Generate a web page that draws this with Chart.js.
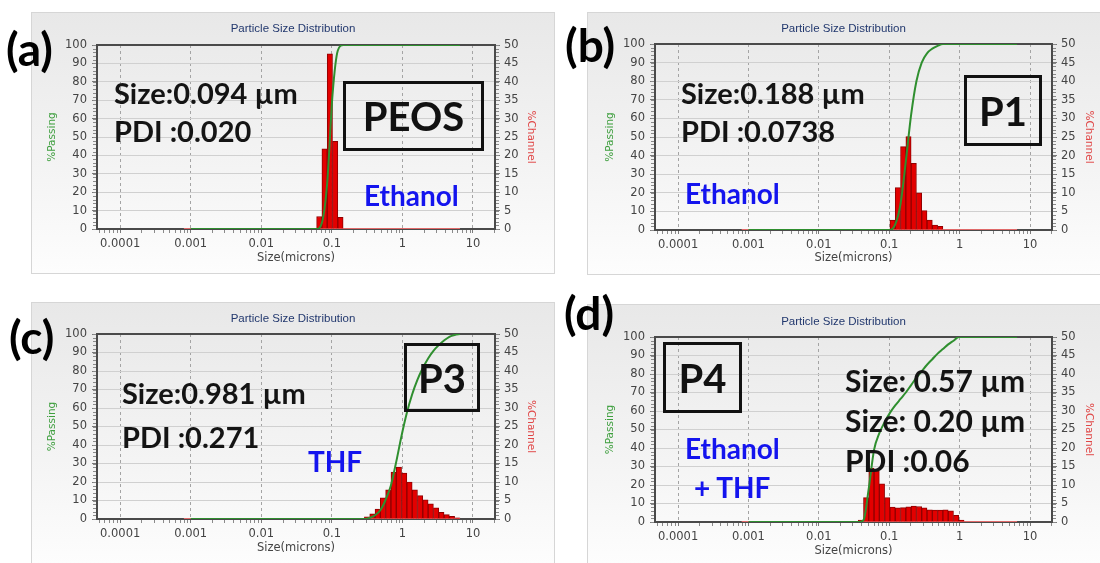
<!DOCTYPE html>
<html>
<head>
<meta charset="utf-8">
<script src="https://cdn.jsdelivr.net/npm/chart.js@4.4.1/dist/chart.umd.min.js"></script>
<style>
  body { margin: 0; background: #fff; }
  #page { position: relative; width: 1100px; height: 563px; overflow: hidden; background: #fff; }
  .panel { position: absolute; box-sizing: border-box; border: 1px solid #d6d6d6;
           background: linear-gradient(#e8e8e8, #f4f4f4 60%, #fdfdfd); }
  canvas { position: absolute; }
  .note { position: absolute; font-family: Lato, "Open Sans", sans-serif; font-weight: 700;
          line-height: 1; white-space: nowrap; color: #141414; transform: translateY(-50%); font-size: 29px; }
  .tag { font-size: 46px; color: #000; }
  .blue { color: #1414ee; font-size: 28px; }
  .box { position: absolute; box-sizing: border-box; border: 3.5px solid #111;
         display: flex; align-items: center; justify-content: center;
         font-family: Lato, "Open Sans", sans-serif; font-weight: 700; font-size: 40px; color: #111; }
</style>
</head>
<body>
<div id="page">
  <div class="panel" style="left:31px;top:12px;width:524px;height:262px"></div>
  <div class="panel" style="left:587px;top:12px;width:515px;height:263px"></div>
  <div class="panel" style="left:31px;top:302px;width:524px;height:263px"></div>
  <div class="panel" style="left:587px;top:304px;width:515px;height:261px"></div>

  <canvas id="psdA" width="524" height="262" style="left:31px;top:12px"></canvas>
  <canvas id="psdB" width="513" height="263" style="left:587px;top:12px"></canvas>
  <canvas id="psdC" width="524" height="261" style="left:31px;top:302px"></canvas>
  <canvas id="psdD" width="513" height="259" style="left:587px;top:304px"></canvas>

  <!-- (a) PEOS -->
  <div class="note tag" style="left:6px;top:49px">(a)</div>
  <div class="note" style="left:114px;top:92px">Size:0.094 µm</div>
  <div class="note" style="left:114px;top:130px">PDI :0.020</div>
  <div class="box" style="left:343px;top:81px;width:141px;height:70px">PEOS</div>
  <div class="note blue" style="left:364px;top:195px">Ethanol</div>

  <!-- (b) P1 -->
  <div class="note tag" style="left:565px;top:45px">(b)</div>
  <div class="note" style="left:681px;top:92px">Size:0.188 µm</div>
  <div class="note" style="left:681px;top:130px">PDI :0.0738</div>
  <div class="box" style="left:964px;top:75px;width:78px;height:71px">P1</div>
  <div class="note blue" style="left:685px;top:193px">Ethanol</div>

  <!-- (c) P3 -->
  <div class="note tag" style="left:9px;top:337px">(c)</div>
  <div class="note" style="left:122px;top:392px">Size:0.981 µm</div>
  <div class="note" style="left:122px;top:436px">PDI :0.271</div>
  <div class="box" style="left:404px;top:343px;width:76px;height:69px">P3</div>
  <div class="note blue" style="left:308px;top:461px">THF</div>

  <!-- (d) P4 -->
  <div class="note tag" style="left:564px;top:313px">(d)</div>
  <div class="box" style="left:663px;top:342px;width:79px;height:71px">P4</div>
  <div class="note" style="left:845px;top:380px;font-size:30px">Size: 0.57 µm</div>
  <div class="note" style="left:845px;top:420px;font-size:30px">Size: 0.20 µm</div>
  <div class="note" style="left:845px;top:460px;font-size:30px">PDI :0.06</div>
  <div class="note blue" style="left:685px;top:448px">Ethanol</div>
  <div class="note blue" style="left:694px;top:487px">+ THF</div>
</div>

<script>
// size axis (microns)
const decadeTicks = [0.0001, 0.001, 0.01, 0.1, 1, 10];
const decadeLabels = ['0.0001', '0.001', '0.01', '0.1', '1', '10'];
const sizeMin = 4.7e-5;
const sizeMax = 20.5;
const channelRange = [0.0008, 6.54];

// PEOS in ethanol: channel centres, %channel, and %passing at channel upper edges
const sizesA = [0.0663, 0.0788, 0.0937, 0.1114, 0.1325];
const channelA = [3.4, 21.8, 47.6, 23.8, 3.2];
const passSizesA = [0.001, 0.0608, 0.0723, 0.0859, 0.1022, 0.1215, 0.1445, 6.54];
const passingA = [0, 0, 3.4, 25, 73, 97, 100, 100];

// P1 in ethanol
const sizesB = [0.1114, 0.1325, 0.1576, 0.1876, 0.223, 0.265, 0.3152, 0.3751, 0.446, 0.530];
const channelB = [2.7, 11.4, 22.4, 25.1, 17.9, 10.0, 5.2, 2.7, 1.3, 1.0];
const passSizesB = [0.001, 0.1022, 0.1215, 0.1445, 0.172, 0.2045, 0.243, 0.289, 0.344, 0.409, 0.486, 0.578, 6.54];
const passingB = [0, 0, 3, 14, 37, 62, 80, 90, 95, 97.5, 99, 100, 100];

// P3 in THF
const sizesC = [0.3152, 0.3751, 0.446, 0.530, 0.630, 0.750, 0.892, 1.060, 1.261, 1.499,
                1.783, 2.121, 2.521, 2.999, 3.566, 4.242, 5.038, 5.998];
const channelC = [0.6, 1.4, 2.7, 5.7, 7.9, 12.7, 14.0, 12.4, 10.0, 7.9,
                  6.3, 5.2, 4.1, 3.0, 1.8, 1.2, 0.7, 0.3];
const passSizesC = [0.001, 0.289, 0.344, 0.409, 0.486, 0.578, 0.688, 0.818, 0.972, 1.156, 1.375,
                    1.635, 1.945, 2.312, 2.75, 3.27, 3.89, 4.62, 5.5, 6.54];
const passingC = [0, 0, 0.6, 2, 4.7, 10.4, 18.3, 31, 45, 57.4, 67.4,
                  75.3, 81.6, 86.8, 90.9, 94, 96.5, 98.5, 99.5, 100];

// P4 in ethanol + THF
const sizesD = [0.0394, 0.0469, 0.0557, 0.0663, 0.0788, 0.0937, 0.1114, 0.1325, 0.1576, 0.1876,
                0.223, 0.265, 0.3152, 0.3751, 0.446, 0.530, 0.630, 0.750, 0.892, 1.060];
const channelD = [0.5, 6.6, 14.6, 13.8, 10.3, 6.6, 4.0, 3.8, 3.9, 4.1,
                  4.3, 4.2, 3.8, 3.3, 3.2, 3.2, 3.3, 3.0, 1.8, 0.5];
const passSizesD = [0.001, 0.0361, 0.043, 0.0511, 0.0608, 0.0723, 0.0859, 0.1022, 0.1215, 0.1445,
                    0.172, 0.2045, 0.243, 0.289, 0.344, 0.409, 0.486, 0.578, 0.688, 0.818, 0.972, 6.54];
const passingD = [0, 0, 1, 18, 39, 48, 54, 59, 63, 66.5,
                  70, 74, 78, 81.5, 85, 88, 91, 93.5, 96, 98, 100, 100];

Chart.defaults.font.family = '"DejaVu Sans", sans-serif';
Chart.defaults.color = '#444';

// plot frame under the data, minor ticks on all three axes
const frameTicks = {
  id: 'frameTicks',
  beforeDatasetsDraw(chart) {
    const {ctx, chartArea: a} = chart;
    ctx.save();
    ctx.strokeStyle = '#4a4a4a';
    ctx.lineWidth = 2;
    ctx.strokeRect(a.left, a.top, a.right - a.left, a.bottom - a.top);
    ctx.restore();
  },
  afterDraw(chart) {
    const {ctx, chartArea: a, scales} = chart;
    ctx.save();
    ctx.strokeStyle = '#8a8a8a';
    ctx.lineWidth = 1;
    ctx.beginPath();
    [0.00001].concat(decadeTicks).forEach(d => {
      for (let k = 2; k < 10; k++) {
        const v = d * k;
        if (v < sizeMin || v > sizeMax) continue;
        const px = Math.round(scales.x.getPixelForValue(v)) + 0.5;
        ctx.moveTo(px, a.bottom + 1);
        ctx.lineTo(px, a.bottom + 4);
      }
    });
    for (let v = 0; v <= 100; v += 2) {
      const py = Math.round(scales.yL.getPixelForValue(v)) + 0.5;
      ctx.moveTo(a.left - 4, py); ctx.lineTo(a.left - 1, py);
      ctx.moveTo(a.right + 1, py); ctx.lineTo(a.right + 4, py);
    }
    ctx.stroke();
    ctx.restore();
  }
};

function drawPSD(id, f, sizes, channel, passSizes, passing) {
  const canvas = document.getElementById(id);
  const w = canvas.width, h = canvas.height;
  const titleLine = 11.5 * 1.2;
  const axisLine = 10.5 * 1.2;
  return new Chart(canvas, {
    type: 'bar',
    data: {
      datasets: [
        {
          type: 'line', label: '%Passing', yAxisID: 'yL', order: 0,
          data: passSizes.map((s, i) => ({x: s, y: passing[i]})),
          borderColor: '#2f8f2f', borderWidth: 2, pointRadius: 0,
          cubicInterpolationMode: 'monotone'
        },
        {
          label: '%Channel', yAxisID: 'yR', order: 1,
          data: sizes.map((s, i) => ({x: s, y: channel[i]})),
          backgroundColor: '#e30000', borderColor: '#900000', borderWidth: 1,
          barPercentage: 1, categoryPercentage: 1
        },
        {
          type: 'line', label: 'channels', yAxisID: 'yR', order: 2,
          data: channelRange.map(s => ({x: s, y: 0})),
          borderColor: '#e06a6a', borderWidth: 2, pointRadius: 0
        }
      ]
    },
    options: {
      responsive: false,
      animation: false,
      layout: {padding: 0},
      plugins: {
        legend: {display: false},
        tooltip: {enabled: false},
        title: {
          display: true, text: 'Particle Size Distribution', color: '#22386e',
          font: {family: '"Liberation Sans", sans-serif', size: 11.5, weight: 'normal'},
          padding: {top: f.titleY - titleLine / 2, bottom: f.top - f.titleY - titleLine / 2}
        }
      },
      scales: {
        x: {
          type: 'logarithmic', min: sizeMin, max: sizeMax, offset: false,
          afterBuildTicks: axis => { axis.ticks = decadeTicks.map(v => ({value: v})); },
          afterFit: axis => { axis.height = h - f.bottom; },
          ticks: {callback: (v, i) => decadeLabels[i], font: {size: 11.5}, padding: 4,
                  maxRotation: 0, autoSkip: false, color: '#444'},
          grid: {offset: false, color: '#a4a4a4', tickColor: '#7a7a7a', tickLength: 4},
          border: {display: false, dash: [3, 3]},
          title: {display: true, text: 'Size(microns)', color: '#444', font: {size: 11.5},
                  padding: {top: 0, bottom: h - f.sizeY - titleLine / 2}}
        },
        yL: {
          position: 'left', min: 0, max: 100,
          afterFit: axis => { axis.width = f.left; },
          ticks: {stepSize: 10, font: {size: 11.5}, padding: 5, color: '#444'},
          grid: {color: '#d0d0d0', tickColor: '#7a7a7a', tickLength: 5},
          border: {display: false},
          title: {display: true, text: '%Passing', color: '#3f9f3f', font: {size: 10.5},
                  padding: {top: f.passX - axisLine / 2, bottom: 0}}
        },
        yR: {
          position: 'right', min: 0, max: 50,
          afterFit: axis => { axis.width = w - f.right; },
          ticks: {stepSize: 5, font: {size: 11.5}, padding: 4, color: '#444'},
          grid: {drawOnChartArea: false, tickColor: '#7a7a7a', tickLength: 5},
          border: {display: false},
          title: {display: true, text: '%Channel', color: '#e04848', font: {size: 10.5},
                  padding: {top: w - f.chanX - axisLine / 2, bottom: 0}}
        }
      }
    },
    plugins: [frameTicks]
  });
}

drawPSD('psdA', {left: 66, right: 464, top: 33, bottom: 217, titleY: 17, sizeY: 246, passX: 21, chanX: 500},
        sizesA, channelA, passSizesA, passingA);
drawPSD('psdB', {left: 68, right: 465, top: 32, bottom: 218, titleY: 17, sizeY: 246, passX: 23, chanX: 502},
        sizesB, channelB, passSizesB, passingB);
drawPSD('psdC', {left: 66, right: 464, top: 32, bottom: 217, titleY: 17, sizeY: 246, passX: 21, chanX: 500},
        sizesC, channelC, passSizesC, passingC);
drawPSD('psdD', {left: 68, right: 465, top: 33, bottom: 218, titleY: 18, sizeY: 247, passX: 23, chanX: 502},
        sizesD, channelD, passSizesD, passingD);
</script>
</body>
</html>
